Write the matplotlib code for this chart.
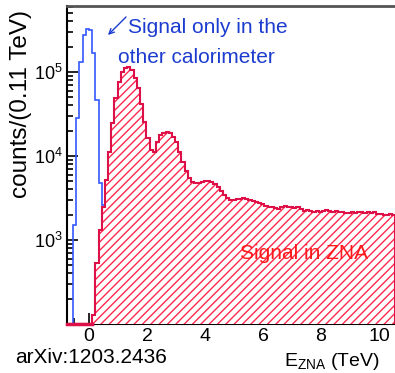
import numpy as np
import matplotlib
matplotlib.use("Agg")
import matplotlib.pyplot as plt
from matplotlib.ticker import LogLocator, NullFormatter, MultipleLocator

plt.rcParams['font.family'] = ['Liberation Sans', 'DejaVu Sans']
plt.rcParams['mathtext.default'] = 'regular'
plt.rcParams['hatch.linewidth'] = 1.0

# bin width of both histograms (TeV)
bin_width = 0.11

# blue: signal only in the other calorimeter, first bin starts at -0.55 TeV
blue_start = -0.55
blue_counts = [1510, 28100, 133000, 276000, 322000, 318000, 167000, 46400,
               4800, 2600, 600]

# red: signal in ZNA, first bin starts at 0.11 TeV
red_start = 0.11
red_counts = [
    128, 530, 1320, 2470, 5180, 11200, 24700, 49000, 76000, 100000,
    111600, 114700, 105700, 84900, 64500, 41600, 25400, 16400, 11800, 11200,
    14700, 17800, 18800, 19300, 18800, 16800, 14700, 11200, 8480, 6630,
    5470, 4900, 4770, 4770, 4900, 5040, 5040, 4900, 4640, 4280,
    3830, 3430, 3160, 2990, 2990, 3080, 3080, 3160, 3080, 2990,
    2910, 2830, 2760, 2680, 2540, 2470, 2470, 2400, 2340, 2470,
    2540, 2470, 2470, 2400, 2470, 2340, 2210, 2280, 2210, 2150,
    2210, 2150, 2210, 2280, 2210, 2150, 2210, 2150, 2150, 2100,
    2100, 2150, 2100, 2150, 2150, 2100, 2150, 2100, 2150, 2040,
    2040, 1985, 1985, 2040, 1985]

blue_edges = blue_start + bin_width * np.arange(len(blue_counts) + 1)
red_edges = red_start + bin_width * np.arange(len(red_counts) + 1)

blue_line = '#3358ff'
blue_text = '#1c3ccf'
red_line = '#dd1148'
red_hatch = '#ff2a4d'
red_text = '#ff1a1a'

W, H = 395, 373
fig = plt.figure(figsize=(W / 100, H / 100), dpi=100)
ax = fig.add_axes([67 / W, 49 / H, 328 / W, 318 / H])

xlo, xhi = -0.756, 10.55
ylo, yhi = 100, 6.1e5

ax.stairs(blue_counts, blue_edges, baseline=1, color=blue_line, lw=1.2, zorder=2)
ax.stairs(red_counts, red_edges, baseline=1, fill=True, facecolor='white',
          edgecolor=red_hatch, hatch='////', lw=0, zorder=3)
ax.stairs(red_counts, red_edges, baseline=1, color=red_line, lw=1.5, zorder=4)
ax.plot([xlo, red_edges[0]], [ylo, ylo], color=red_line, lw=2.5, zorder=5,
        clip_on=False)

ax.set_yscale('log')
ax.set_xlim(xlo, xhi)
ax.set_ylim(ylo, yhi)
ax.set_yticks([1e3, 1e4, 1e5])
ax.yaxis.set_minor_locator(LogLocator(base=10, subs=np.arange(2, 10)))
ax.yaxis.set_minor_formatter(NullFormatter())
ax.xaxis.set_major_locator(MultipleLocator(2))
ax.xaxis.set_minor_locator(MultipleLocator(0.5))

ax.tick_params(which='both', direction='in', width=1.2)
ax.tick_params(which='major', length=8)
ax.tick_params(which='minor', length=4)
ax.tick_params(axis='x', labelsize=14, pad=3)
ax.tick_params(axis='y', labelsize=13, pad=3)

ax.spines['right'].set_visible(False)
ax.spines['top'].set_color('#555555')
ax.spines['top'].set_linewidth(2)
ax.spines['left'].set_linewidth(1.5)
ax.spines['bottom'].set_linewidth(1.5)

fig.text(21 / W, 1 - 104 / H, 'counts/(0.11 TeV)', rotation=90, fontsize=17.5,
         ha='center', va='center')
fig.text(380 / W, 1 - 366 / H, 'E$_{ZNA}$ (TeV)', fontsize=14,
         ha='right', va='baseline')
fig.text(15 / W, 1 - 363 / H, 'arXiv:1203.2436', fontsize=15,
         ha='left', va='baseline')

fig.text(128 / W, 1 - 33 / H, 'Signal only in the', fontsize=15,
         color=blue_text, ha='left', va='baseline')
fig.text(118 / W, 1 - 63 / H, 'other calorimeter', fontsize=15,
         color=blue_text, ha='left', va='baseline')
ax.annotate('', xy=(108, H - 35), xycoords='figure pixels',
            xytext=(126, H - 17), textcoords='figure pixels',
            arrowprops=dict(arrowstyle='->', color=blue_text, lw=1,
                            mutation_scale=9, shrinkA=0, shrinkB=0))

fig.text(240 / W, 1 - 259 / H, 'Signal in ZNA', fontsize=15, color=red_text,
         ha='left', va='baseline', zorder=10)

fig.savefig('out.png', dpi=100)
